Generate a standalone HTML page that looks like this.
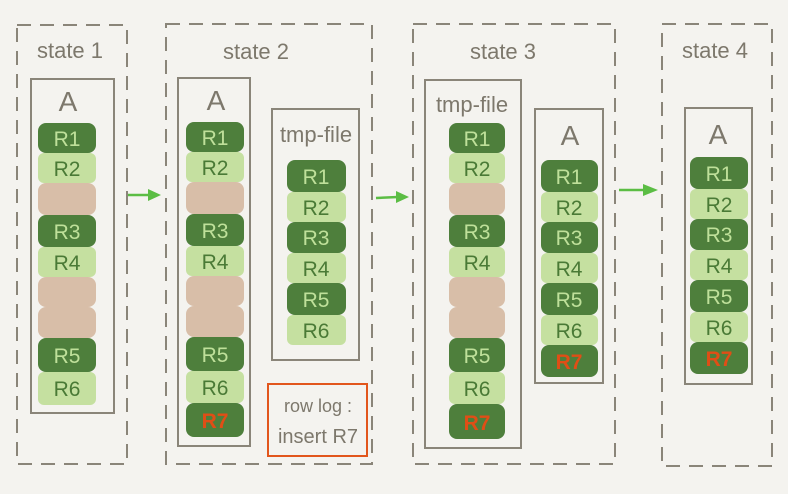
<!DOCTYPE html>
<html><head><meta charset="utf-8"><style>
html,body{margin:0;padding:0;background:#f4f3ef;}
svg{display:block}
text{font-family:"Liberation Sans",sans-serif;}
.d{fill:#4e7f3c}.l{fill:#c5e0a0}.b{fill:#d8bea8}
.td{fill:#bfe09a;font-size:21px;text-anchor:middle}
.tl{fill:#4a7a36;font-size:21px;text-anchor:middle}
.tr{fill:#e04e16;font-size:21px;text-anchor:middle;font-weight:bold}
.dash{fill:none;stroke:#8a8579;stroke-width:2;stroke-dasharray:14 9}
.box{fill:none;stroke:#8a8579;stroke-width:2}
.lab{fill:#7d786c;font-size:22px;text-anchor:middle}
</style></head><body>
<svg width="788" height="494" viewBox="0 0 788 494" xmlns="http://www.w3.org/2000/svg">
<rect width="788" height="494" fill="#f4f3ef"/>
<rect class="dash" x="17" y="25" width="110" height="439"/>
<rect class="dash" x="166" y="24" width="206" height="440"/>
<rect class="dash" x="413" y="24" width="202" height="440"/>
<rect class="dash" x="662" y="24" width="110" height="442"/>
<text class="lab" x="70" y="58">state 1</text>
<text class="lab" x="256" y="59">state 2</text>
<text class="lab" x="503" y="59">state 3</text>
<text class="lab" x="715" y="58">state 4</text>
<rect class="box" x="31" y="79" width="83" height="334"/>
<rect class="box" x="178" y="78" width="72" height="368"/>
<rect class="box" x="272" y="109" width="87" height="251"/>
<rect class="box" x="425" y="80" width="96" height="368"/>
<rect class="box" x="535" y="109" width="68" height="274"/>
<rect class="box" x="685" y="108" width="67" height="276"/>
<text class="lab" x="68" y="111" style="font-size:28px">A</text>
<text class="lab" x="216" y="110" style="font-size:28px">A</text>
<text class="lab" x="316" y="142">tmp-file</text>
<text class="lab" x="472" y="112">tmp-file</text>
<text class="lab" x="570" y="145" style="font-size:28px">A</text>
<text class="lab" x="718" y="144" style="font-size:28px">A</text>
<g>
<rect class="d" x="38" y="123" width="58" height="30" rx="8"/><text class="td" x="67" y="146">R1</text>
<rect class="l" x="38" y="153" width="58" height="30" rx="6"/><text class="tl" x="67" y="176">R2</text>
<rect class="b" x="38" y="183" width="58" height="32" rx="8"/>
<rect class="d" x="38" y="215" width="58" height="32" rx="8"/><text class="td" x="67" y="239">R3</text>
<rect class="l" x="38" y="247" width="58" height="30" rx="6"/><text class="tl" x="67" y="270">R4</text>
<rect class="b" x="38" y="277" width="58" height="30" rx="8"/>
<rect class="b" x="38" y="307" width="58" height="31" rx="8"/>
<rect class="d" x="38" y="338" width="58" height="34" rx="8"/><text class="td" x="67" y="363">R5</text>
<rect class="l" x="38" y="372" width="58" height="33" rx="6"/><text class="tl" x="67" y="396">R6</text>
</g>
<g>
<rect class="d" x="186" y="122" width="58" height="30" rx="8"/><text class="td" x="215" y="145">R1</text>
<rect class="l" x="186" y="152" width="58" height="30" rx="6"/><text class="tl" x="215" y="175">R2</text>
<rect class="b" x="186" y="182" width="58" height="32" rx="8"/>
<rect class="d" x="186" y="214" width="58" height="32" rx="8"/><text class="td" x="215" y="238">R3</text>
<rect class="l" x="186" y="246" width="58" height="30" rx="6"/><text class="tl" x="215" y="269">R4</text>
<rect class="b" x="186" y="276" width="58" height="30" rx="8"/>
<rect class="b" x="186" y="306" width="58" height="31" rx="8"/>
<rect class="d" x="186" y="337" width="58" height="34" rx="8"/><text class="td" x="215" y="362">R5</text>
<rect class="l" x="186" y="371" width="58" height="32" rx="6"/><text class="tl" x="215" y="395">R6</text>
<rect class="d" x="186" y="403" width="58" height="34" rx="8"/><text class="tr" x="215" y="428">R7</text>
</g>
<g>
<rect class="d" x="287" y="160" width="59" height="32" rx="8"/><text class="td" x="316" y="184">R1</text>
<rect class="l" x="287" y="192" width="59" height="30" rx="6"/><text class="tl" x="316" y="215">R2</text>
<rect class="d" x="287" y="222" width="59" height="31" rx="8"/><text class="td" x="316" y="245">R3</text>
<rect class="l" x="287" y="253" width="59" height="30" rx="6"/><text class="tl" x="316" y="276">R4</text>
<rect class="d" x="287" y="283" width="59" height="32" rx="8"/><text class="td" x="316" y="307">R5</text>
<rect class="l" x="287" y="315" width="59" height="30" rx="6"/><text class="tl" x="316" y="338">R6</text>
</g>
<rect x="268" y="384" width="99" height="72" fill="none" stroke="#e2561c" stroke-width="2"/>
<text class="lab" x="318" y="412" style="font-size:18px">row log :</text>
<text class="lab" x="318" y="443" style="font-size:20px">insert R7</text>
<g>
<rect class="d" x="449" y="123" width="56" height="30" rx="8"/><text class="td" x="477" y="146">R1</text>
<rect class="l" x="449" y="153" width="56" height="30" rx="6"/><text class="tl" x="477" y="176">R2</text>
<rect class="b" x="449" y="183" width="56" height="32" rx="8"/>
<rect class="d" x="449" y="215" width="56" height="32" rx="8"/><text class="td" x="477" y="239">R3</text>
<rect class="l" x="449" y="247" width="56" height="30" rx="6"/><text class="tl" x="477" y="270">R4</text>
<rect class="b" x="449" y="277" width="56" height="30" rx="8"/>
<rect class="b" x="449" y="307" width="56" height="31" rx="8"/>
<rect class="d" x="449" y="338" width="56" height="34" rx="8"/><text class="td" x="477" y="363">R5</text>
<rect class="l" x="449" y="372" width="56" height="32" rx="6"/><text class="tl" x="477" y="396">R6</text>
<rect class="d" x="449" y="404" width="56" height="35" rx="8"/><text class="tr" x="477" y="430">R7</text>
</g>
<g>
<rect class="d" x="541" y="160" width="57" height="32" rx="8"/><text class="td" x="569" y="184">R1</text>
<rect class="l" x="541" y="192" width="57" height="30" rx="6"/><text class="tl" x="569" y="215">R2</text>
<rect class="d" x="541" y="222" width="57" height="31" rx="8"/><text class="td" x="569" y="245">R3</text>
<rect class="l" x="541" y="253" width="57" height="30" rx="6"/><text class="tl" x="569" y="276">R4</text>
<rect class="d" x="541" y="283" width="57" height="32" rx="8"/><text class="td" x="569" y="307">R5</text>
<rect class="l" x="541" y="315" width="57" height="30" rx="6"/><text class="tl" x="569" y="338">R6</text>
<rect class="d" x="541" y="345" width="57" height="32" rx="8"/><text class="tr" x="569" y="369">R7</text>
</g>
<g>
<rect class="d" x="690" y="157" width="58" height="32" rx="8"/><text class="td" x="719" y="181">R1</text>
<rect class="l" x="690" y="189" width="58" height="30" rx="6"/><text class="tl" x="719" y="212">R2</text>
<rect class="d" x="690" y="219" width="58" height="31" rx="8"/><text class="td" x="719" y="242">R3</text>
<rect class="l" x="690" y="250" width="58" height="30" rx="6"/><text class="tl" x="719" y="273">R4</text>
<rect class="d" x="690" y="280" width="58" height="32" rx="8"/><text class="td" x="719" y="304">R5</text>
<rect class="l" x="690" y="312" width="58" height="30" rx="6"/><text class="tl" x="719" y="335">R6</text>
<rect class="d" x="690" y="342" width="58" height="32" rx="8"/><text class="tr" x="719" y="366">R7</text>
</g>
<g stroke="#5bbd44" stroke-width="2.5" fill="#5bbd44">
<line x1="128" y1="195" x2="150" y2="195"/><polygon points="148,189 161,195 148,201" stroke="none"/>
<line x1="376" y1="198" x2="398" y2="197"/><polygon points="396,191 409,197 396,203" stroke="none"/>
<line x1="619" y1="190" x2="645" y2="190"/><polygon points="643,184 658,190 643,196" stroke="none"/>
</g>
</svg>
</body></html>
